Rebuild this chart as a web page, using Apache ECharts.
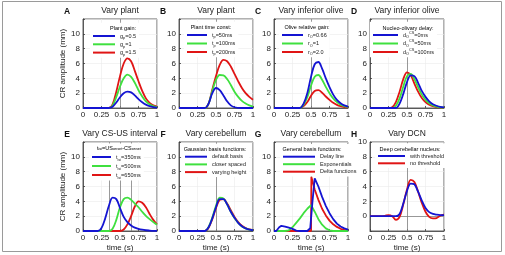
<!DOCTYPE html>
<html>
<head>
<meta charset="utf-8">
<script src="https://cdn.jsdelivr.net/npm/echarts@6/dist/echarts.min.js"></script>
<style>
html, body { margin: 0; padding: 0; background: #fff; }
#main { width: 505px; height: 255px; }
</style>
</head>
<body>
<div id="main"></div>
<script>
// time samples (s), shared by most curves
var tSteps = [0, 0.05, 0.1, 0.15, 0.2, 0.25, 0.3, 0.35, 0.4, 0.45, 0.5, 0.55, 0.6, 0.65, 0.7, 0.75, 0.8, 0.85, 0.9, 0.95, 1];

// A - plant gain
var gainLow  = [0,0,0,0,0,0,0,0,0.17,0.75,1.45,2.0,2.2,2.1,1.7,1.2,0.78,0.45,0.25,0.12,0.06];
var gainMid  = [0,0,0,0,0,0,0,0,0.35,1.5,2.9,4.0,4.5,4.2,3.4,2.4,1.55,0.9,0.5,0.25,0.12];
var gainHigh = [0,0,0,0,0,0,0,0,0.5,2.2,4.3,6.0,6.7,6.3,5.0,3.6,2.3,1.3,0.7,0.35,0.2];

// B - plant time constant
var tau50  = [0,0,0,0,0,0,0,0,0.6,2.0,2.7,2.4,1.7,0.9,0.35,0.1,0.02,0,0,0,0];
var tau100 = [0,0,0,0,0,0,0,0,0.6,2.3,3.8,4.45,4.4,3.9,3.1,2.2,1.5,0.95,0.6,0.35,0.2];
var tau200 = [0,0,0,0,0,0,0,0,0.6,2.5,4.3,5.8,6.5,6.3,5.6,4.6,3.6,2.7,2.0,1.5,1.1];

// C - olive relative gain
var oliveLow  = [0,0,0,0,0,0,0,0,0.6,2.0,4.2,5.9,6.2,5.3,4.0,2.8,1.8,1.1,0.65,0.35,0.2];
var oliveMid  = [0,0,0,0,0,0,0,0,0.45,1.45,3.0,4.2,4.45,3.8,2.85,2.0,1.3,0.8,0.45,0.25,0.15];
var oliveHigh = [0,0,0,0,0,0,0,0,0.25,0.8,1.65,2.3,2.4,2.05,1.55,1.1,0.7,0.43,0.25,0.13,0.08];

// D - nucleo-olivary delay
var delay0   = [0,0,0,0,0,0,0,0,0.6,1.9,3.5,4.4,4.3,3.4,2.3,1.5,0.9,0.5,0.3,0.15,0.08];
var delay50  = [0,0,0,0,0,0,0,0.3,1.3,2.9,4.3,4.6,3.9,2.8,1.8,1.1,0.65,0.35,0.2,0.1,0.05];
var delay100 = [0,0,0,0,0,0,0.1,0.8,2.2,3.9,4.8,4.4,3.3,2.2,1.35,0.8,0.45,0.25,0.12,0.05,0.02];

// E - CS-US interval
var isi350 = [0,0,0,0,0,0.4,1.7,3.4,4.5,4.3,3.1,1.9,1.2,0.75,0.45,0.28,0.17,0.1,0.06,0.03,0.02];
var isi500 = [0,0,0,0,0,0,0,0,0.3,1.5,3.2,4.3,4.5,4.2,3.7,3.2,2.6,2.05,1.6,1.2,0.85];
var isi650 = [0,0,0,0,0,0,0,0,0,0,0,0.2,0.9,2.0,3.3,4.0,3.8,3.2,2.3,1.5,0.9];
var isiMarks = [0.35, 0.5, 0.65];

// F - gaussian basis
var gaussDefault = [0,0,0,0,0,0,0,0,0.5,1.7,3.2,4.3,4.3,3.6,2.6,1.8,1.1,0.65,0.35,0.2,0.1];
var gaussCloser  = [0,0,0,0,0,0,0,0,0.55,1.8,3.4,4.5,4.4,3.6,2.6,1.75,1.1,0.6,0.35,0.18,0.1];
var gaussHeight  = [0,0,0,0,0,0,0,0,0.45,1.6,3.1,4.2,4.3,3.7,2.8,1.9,1.2,0.7,0.4,0.22,0.12];

// G - general basis, own time points
var delayLineT = [0,0.03,0.07,0.1,0.15,0.2,0.25,0.3,0.35,0.4,0.45,0.49,0.52,0.55,0.6,0.65,0.7,0.75,0.8,0.85,0.9,0.95,1];
var delayLineY = [0,0,0.5,0.7,0.6,0.45,0.3,0.05,0,0,0,0.4,4.0,7.1,6.0,4.6,3.4,2.4,1.6,1.0,0.6,0.35,0.2];
var expT = [0,0.15,0.2,0.25,0.3,0.35,0.4,0.45,0.5,0.55,0.6,0.65,0.7,0.75,0.8,1];
var expY = [0,0,0.1,0.5,1.1,1.7,2.4,3.0,3.5,2.6,1.6,0.85,0.35,0.1,0,0];
var deltaT = [0,0.5,0.505,0.55,0.6,0.65,0.7,0.75,0.8,0.85,0.9,0.95,1];
var deltaY = [0,0,7.3,5.6,4.2,3.0,2.1,1.4,0.9,0.55,0.3,0.15,0.08];

// H - DCN
var dcnThresh   = [0,0,0,0,0,0,0,0,0.3,1.7,3.4,4.4,4.3,3.3,2.1,1.1,0.55,0.3,0.2,0.15,0.15];
var dcnNoThresh = [0,0,0,0,0.05,0.15,0,-0.5,-0.1,1.6,3.6,4.9,4.6,3.3,1.8,0.6,-0.1,-0.3,-0.25,0.05,0.2];

var yTicks = [0, 2, 4, 6, 8, 10];

var BLUE = '#1414d2', GREEN = '#3fe03f', RED = '#e01515';
var FONT = 'Liberation Sans, Arial, Helvetica, sans-serif';

function pairs(xs, ys) {
    return xs.map(function (x, i) { return [x, ys[i]]; });
}

var panels = [
    { letter: 'A', title: 'Vary plant', legTitle: 'Plant gain:',
      curves: [['A0', tSteps, gainLow, BLUE, '{n|g}{s|p}{n|=0.5}'], ['A1', tSteps, gainMid, GREEN, '{n|g}{s|p}{n|=1}'], ['A2', tSteps, gainHigh, RED, '{n|g}{s|p}{n|=1.5}']],
      leg: [93, 36, 8.3, 22], legTitlePos: [123, 28] },
    { letter: 'B', title: 'Vary plant', legTitle: 'Plant time const:',
      curves: [['B0', tSteps, tau50, BLUE, '{n|t}{s|p}{n|=50ms}'], ['B1', tSteps, tau100, GREEN, '{n|t}{s|p}{n|=100ms}'], ['B2', tSteps, tau200, RED, '{n|t}{s|p}{n|=200ms}']],
      leg: [187, 35, 8.5, 20], legTitlePos: [211, 27] },
    { letter: 'C', title: 'Vary inferior olive', legTitle: 'Olive relative gain:',
      curves: [['C0', tSteps, oliveLow, BLUE, '{n|r}{s|O}{n|=0.66}'], ['C1', tSteps, oliveMid, GREEN, '{n|r}{s|O}{n|=1}'], ['C2', tSteps, oliveHigh, RED, '{n|r}{s|O}{n|=2.0}']],
      leg: [282, 35, 8.5, 21], legTitlePos: [307, 27] },
    { letter: 'D', title: 'Vary inferior olive', legTitle: 'Nucleo-olivary delay:',
      curves: [['D0', tSteps, delay0, BLUE, '{n|d}{s|O}{u|CS}{n|=0ms}'], ['D1', tSteps, delay50, GREEN, '{n|d}{s|O}{u|CS}{n|=50ms}'], ['D2', tSteps, delay100, RED, '{n|d}{s|O}{u|CS}{n|=100ms}']],
      leg: [373, 35, 8.5, 25], legTitlePos: [408, 28] },
    { letter: 'E', title: 'Vary CS-US interval', legTitle: '{n|t}{s|isi}{n|=US}{s|onset}{n|-CS}{s|onset}',
      curves: [['E0', tSteps, isi350, BLUE, '{n|t}{s|isi}{n|=350ms}'], ['E1', tSteps, isi500, GREEN, '{n|t}{s|isi}{n|=500ms}'], ['E2', tSteps, isi650, RED, '{n|t}{s|isi}{n|=650ms}']],
      leg: [92, 157, 9, 19], legTitlePos: [119, 148], marks: isiMarks },
    { letter: 'F', title: 'Vary cerebellum', legTitle: 'Gaussian basis functions:',
      curves: [['F0', tSteps, gaussDefault, BLUE, '{n|default basis}'], ['F1', tSteps, gaussCloser, GREEN, '{n|closer spaced}'], ['F2', tSteps, gaussHeight, RED, '{n|varying height}']],
      leg: [185, 156.7, 7.7, 22], legTitlePos: [215, 149] },
    { letter: 'G', title: 'Vary cerebellum', legTitle: 'General basis functions:', sharp: true,
      curves: [['G0', delayLineT, delayLineY, BLUE, '{n|Delay line}'], ['G1', expT, expY, GREEN, '{n|Exponentials}'], ['G2', deltaT, deltaY, RED, '{n|Delta functions}']],
      leg: [283, 156.7, 7.5, 32], legTitlePos: [312, 149] },
    { letter: 'H', title: 'Vary DCN', legTitle: 'Deep cerebellar nucleus:', dcn: true,
      curves: [['H0', tSteps, dcnThresh, BLUE, '{n|with threshold}'], ['H1', tSteps, dcnNoThresh, RED, '{n|no threshold}']],
      leg: [378, 156, 7.3, 27], legTitlePos: [410, 149] }
];

var gridLefts = [83, 179, 274, 370];
var rowTops = [19, 142];
var gridW = 74, gridH = 89;

var rich = {
    n: { fontSize: 5.5, fontFamily: FONT, color: '#222' },
    s: { fontSize: 3.8, fontFamily: FONT, color: '#222', verticalAlign: 'bottom' },
    u: { fontSize: 3.8, fontFamily: FONT, color: '#222', verticalAlign: 'top' }
};

var option = {
    animation: false,
    backgroundColor: '#fff',
    grid: [], xAxis: [], yAxis: [], series: [], legend: [], graphic: []
};

var labelMap = {};

option.graphic.push({
    type: 'rect', z: -10, silent: true,
    shape: { x: 2.5, y: 1.5, width: 499, height: 250 },
    style: { fill: 'none', stroke: '#9a9a9a', lineWidth: 1 }
});

panels.forEach(function (p, i) {
    var row = Math.floor(i / 4);
    var left = gridLefts[i % 4];
    var top = rowTops[row];

    option.grid.push({
        left: left, top: top, width: gridW, height: gridH,
        show: true, borderColor: '#3a3a3a', borderWidth: 0.8
    });

    option.xAxis.push({
        gridIndex: i, type: 'value', min: 0, max: 1, interval: 0.25,
        axisLine: { show: true, onZero: false, lineStyle: { color: '#3a3a3a', width: 0.8 } },
        axisTick: { inside: true, length: 2, lineStyle: { color: '#3a3a3a', width: 0.8 } },
        axisLabel: { fontSize: 8, color: '#222', margin: 3, fontFamily: FONT },
        splitLine: { show: true, lineStyle: { color: '#ebebeb', width: 0.6 } },
        name: row === 1 ? 'time (s)' : '',
        nameLocation: 'middle', nameGap: 13,
        nameTextStyle: { fontSize: 8, color: '#222', fontFamily: FONT }
    });

    option.yAxis.push({
        gridIndex: i, type: 'value',
        min: p.dcn ? -2 : 0, max: p.dcn ? 10 : 12, interval: 2,
        axisLine: { show: true, lineStyle: { color: '#3a3a3a', width: 0.8 } },
        axisTick: { inside: true, length: 2, lineStyle: { color: '#3a3a3a', width: 0.8 } },
        axisLabel: {
            fontSize: 8, color: '#222', margin: 3, fontFamily: FONT,
            formatter: function (v) { return yTicks.indexOf(v) >= 0 ? String(v) : ''; }
        },
        splitLine: { show: true, lineStyle: { color: '#ebebeb', width: 0.6 } },
        name: (i % 4 === 0) ? 'CR amplitude (mm)' : '',
        nameLocation: 'middle', nameGap: 16,
        nameTextStyle: { fontSize: 8, color: '#222', fontFamily: FONT }
    });

    var markData = (p.marks || [0.5]).map(function (m) { return { xAxis: m }; });
    if (p.dcn) {
        markData.push({ yAxis: 0 });
    }

    p.curves.forEach(function (c, k) {
        labelMap[c[0]] = c[4];
        var s = {
            type: 'line', name: c[0], xAxisIndex: i, yAxisIndex: i,
            data: pairs(c[1], c[2]),
            symbol: 'none', showSymbol: false,
            smooth: p.sharp ? false : 0.35,
            lineStyle: { color: c[3], width: 1.8 },
            itemStyle: { color: c[3] },
            z: 3 + (p.curves.length - k)
        };
        if (k === 0) {
            s.markLine = {
                silent: true, symbol: ['none', 'none'], label: { show: false },
                lineStyle: { color: '#808080', width: 0.8, type: 'solid' },
                data: markData, z: 1
            };
        }
        option.series.push(s);
    });

    var lg = p.leg;
    option.legend.push({
        orient: 'vertical',
        left: lg[0] - 3, top: lg[1] - lg[2] / 2 - 9,
        padding: [9, 3, 1, 3],
        backgroundColor: '#fff',
        itemWidth: lg[3], itemHeight: 2, itemGap: 0, icon: 'rect',
        selectedMode: false,
        data: p.curves.map(function (c) { return c[0]; }),
        formatter: function (name) { return labelMap[name]; },
        textStyle: { fontSize: 5.5, lineHeight: lg[2], color: '#222', fontFamily: FONT, rich: rich }
    });

    // panel letter, title, legend heading
    option.graphic.push({
        type: 'text', z: 100, silent: true,
        x: left - 16, y: top - 7,
        style: { text: p.letter, font: 'bold 8.5px ' + FONT, fill: '#111', align: 'center', verticalAlign: 'middle', textAlign: 'center', textVerticalAlign: 'middle' }
    });
    option.graphic.push({
        type: 'text', z: 100, silent: true,
        x: left + gridW / 2, y: top - 8,
        style: { text: p.title, font: '8.5px ' + FONT, fill: '#222', align: 'center', verticalAlign: 'middle', textAlign: 'center', textVerticalAlign: 'middle' }
    });
    option.graphic.push({
        type: 'text', z: 100, silent: true,
        x: p.legTitlePos[0], y: p.legTitlePos[1],
        style: {
            text: p.legTitle.indexOf('{') === 0 ? p.legTitle : '{n|' + p.legTitle + '}',
            rich: rich, align: 'center', verticalAlign: 'middle', textAlign: 'center', textVerticalAlign: 'middle'
        }
    });
});

var chart = echarts.init(document.getElementById('main'));
chart.setOption(option);
</script>
</body>
</html>
